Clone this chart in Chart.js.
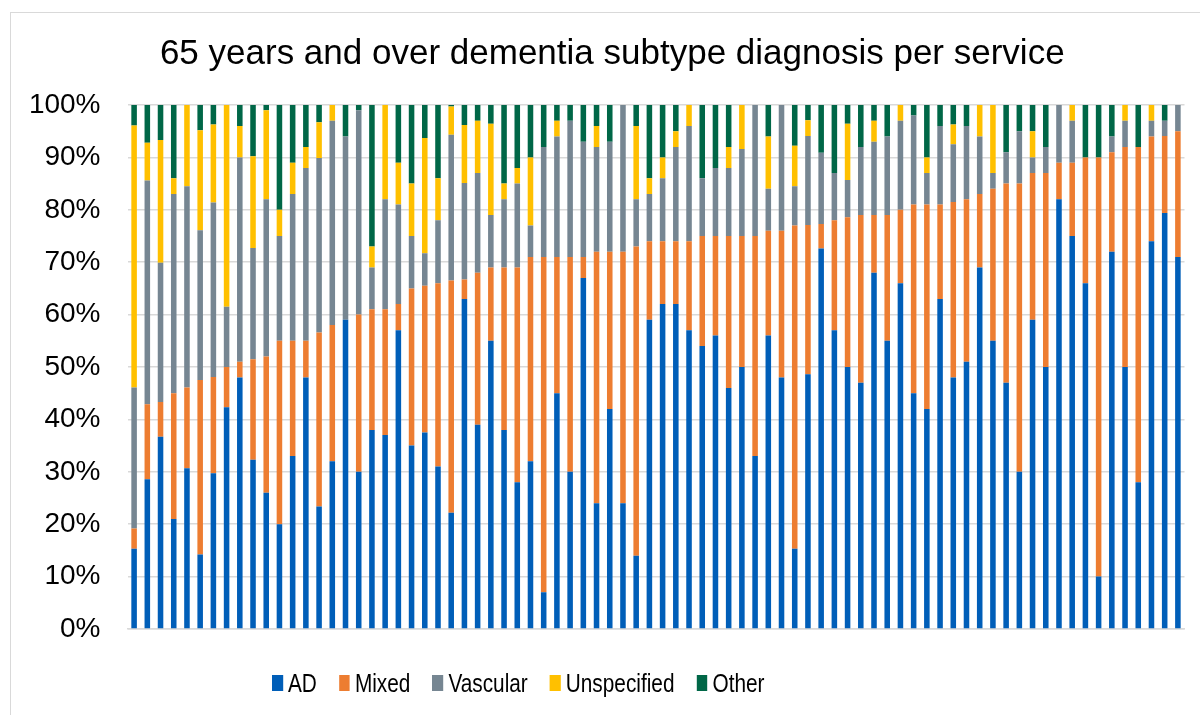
<!DOCTYPE html>
<html>
<head>
<meta charset="utf-8">
<title>65 years and over dementia subtype diagnosis per service</title>
<script src="https://cdn.jsdelivr.net/npm/chart.js@4.4.1/dist/chart.umd.min.js"></script>
<style>
  html, body { margin: 0; padding: 0; background: #fff; }
  #wrap { position: relative; width: 1200px; height: 715px; overflow: hidden; }
  #frame { position: absolute; left: 10px; top: 12px; width: 1400px; height: 900px; border: 1px solid #d9d9d9; }
  #chart { position: absolute; left: 0; top: 0; }
  #legend {
    position: absolute; left: 272px; top: 670px; display: flex; align-items: center;
    transform: scaleX(0.8); transform-origin: left center;
    font-family: "Liberation Sans", Arial, sans-serif; font-size: 26px; line-height: 26px; color: #000;
    white-space: nowrap;
  }
  .item { display: flex; align-items: center; margin-right: 27.5px; }
  .box { width: 13.75px; height: 16px; margin-right: 6.25px; }
</style>
</head>
<body>
<div id="wrap">
  <div id="frame"></div>
  <canvas id="chart" width="1200" height="715"></canvas>
  <div id="legend"></div>
</div>
<script>
// one bar per service (% of diagnoses)
const services = ['1','2','3','4','5','6','7','8','9','10','11','12','13','14','15','16','17','18','19','20',
  '21','22','23','24','25','26','27','28','29','30','31','32','33','34','35','36','37','38','39','40',
  '41','42','43','44','45','46','47','48','49','50','51','52','53','54','55','56','57','58','59','60',
  '61','62','63','64','65','66','67','68','69','70','71','72','73','74','75','76','77','78','79','80'];

const ad = [15.3, 28.6, 36.7, 21, 30.7, 14.2, 29.7, 42.3, 48, 32.3, 26, 20, 33, 48, 23.4, 32, 59, 30, 38, 37,
  57, 35, 37.5, 31, 22.2, 63, 39, 55, 38, 28, 32, 7, 45, 30, 67, 24, 42, 24, 14, 59,
  62, 62, 57, 54, 56, 46, 50, 33, 56, 48, 15.3, 48.6, 72.6, 57, 50, 47, 68, 55, 66, 45,
  42, 63, 48, 51, 69, 55, 47, 30, 59, 50, 82, 75, 66, 10, 72, 50, 28, 74, 79.4, 71];

const mixed = [3.9, 14.3, 6.6, 24, 15.4, 33.3, 18.4, 7.7, 3, 19.2, 26, 35, 22, 7, 33.2, 26, 0, 30, 23, 24,
  5, 30, 28, 35, 44.3, 3.7, 29, 14, 31, 41, 39, 64, 26, 41, 4, 48, 30, 48, 59, 15,
  12, 12, 17, 21, 19, 29, 25, 42, 20, 28, 61.7, 28.5, 4.7, 21, 28.6, 32, 11, 24, 14, 36,
  39, 18, 33.5, 31, 14, 29, 38, 55, 28, 37, 7, 14, 24, 80, 19, 42, 64, 20, 14.7, 24];

const vascular = [26.9, 42.7, 26.6, 38, 38.4, 28.6, 33.3, 11.5, 39, 21.2, 30, 20, 28, 33, 33.3, 39, 35, 39, 8, 21,
  19, 10, 6.2, 12, 27.8, 18.4, 19, 10, 13, 16, 6, 21, 23, 26, 22, 20, 21, 28, 9, 9,
  12, 18, 22, 11, 13, 13, 16.6, 25, 8, 24, 7.5, 17, 13.6, 9, 7.1, 13, 14, 15, 17, 17,
  6, 15, 11, 14, 11, 3, 6, 10, 3, 5, 11, 8, 0, 0, 3, 5, 0, 3, 2.9, 5];

const unspecified = [50, 7.2, 23.4, 3, 15.5, 19.1, 14.9, 38.5, 6, 17.5, 17, 5, 6, 4, 6.8, 3, 0, 0, 4, 18,
  8, 10, 22, 8, 5.4, 11.1, 10, 17.4, 3, 3, 13, 0, 3, 0, 0, 4, 0, 0, 14, 3,
  4, 3, 4, 0, 0, 4, 8.4, 0, 10, 0, 7.7, 3, 0, 0, 10.7, 0, 4, 0, 3, 0,
  3, 0, 3.8, 0, 6, 13, 0, 0, 5, 0, 0, 3, 0, 0, 0, 3, 0, 3, 0, 0];

const other = [3.9, 7.2, 6.7, 14, 0, 4.8, 3.7, 0, 4, 9.8, 1, 20, 11, 8, 3.3, 0, 6, 1, 27, 0,
  11, 15, 6.3, 14, 0.3, 3.8, 3, 3.6, 15, 12, 10, 8, 3, 3, 7, 4, 7, 0, 4, 14,
  10, 5, 0, 14, 12, 8, 0, 0, 6, 0, 7.8, 2.9, 9.1, 13, 3.6, 8, 3, 6, 0, 2,
  10, 4, 3.7, 4, 0, 0, 9, 5, 5, 8, 0, 0, 10, 10, 6, 0, 8, 0, 3, 0];

const seriesNames = ['AD', 'Mixed', 'Vascular', 'Unspecified', 'Other'];
const seriesColors = ['#005eb8', '#ed7d31', '#768692', '#ffc000', '#006747'];
const yTicks = [0, 10, 20, 30, 40, 50, 60, 70, 80, 90, 100];

const seriesData = [ad, mixed, vascular, unspecified, other];

const datasets = seriesNames.map((name, i) => ({
  label: name,
  data: seriesData[i],
  backgroundColor: seriesColors[i],
  borderWidth: 0,
  barPercentage: 0.42,
  categoryPercentage: 1
}));

// nudge the title a little right, the original is not centred on the canvas
const titleShift = {
  id: 'titleShift',
  afterLayout(c) {
    if (c.titleBlock) {
      c.titleBlock.left += 7;
      c.titleBlock.right += 7;
    }
  }
};

const chart = new Chart(document.getElementById('chart'), {
  type: 'bar',
  data: { labels: services, datasets: datasets },
  plugins: [titleShift],
  options: {
    responsive: false,
    animation: false,
    layout: { padding: { left: 26, right: 15.5, top: 0, bottom: 86 } },
    plugins: {
      legend: { display: false },
      tooltip: { enabled: false },
      title: {
        display: true,
        text: '65 years and over dementia subtype diagnosis per service',
        color: '#000',
        font: { family: '"Liberation Sans", Arial, sans-serif', size: 35, weight: 'normal', lineHeight: 1.2 },
        padding: { top: 33, bottom: 30 }
      }
    },
    scales: {
      x: {
        stacked: true,
        ticks: { display: false },
        grid: { display: false, drawTicks: false },
        border: { display: true, color: '#d9d9d9', width: 1.5 }
      },
      y: {
        stacked: true,
        min: 0,
        max: 100,
        afterFit: (scale) => { scale.width = 101.5; },
        afterBuildTicks: (scale) => { scale.ticks = yTicks.map(v => ({ value: v })); },
        ticks: {
          padding: 27,
          color: '#000',
          font: { family: '"Liberation Sans", Arial, sans-serif', size: 28 },
          callback: (v) => v + '%'
        },
        grid: { color: '#d9d9d9', lineWidth: 1.5, drawTicks: false },
        border: { display: false }
      }
    }
  }
});

// legend drawn as html so it sits where the original one does
const legend = document.getElementById('legend');
seriesNames.forEach((name, i) => {
  const item = document.createElement('div');
  item.className = 'item';
  const box = document.createElement('span');
  box.className = 'box';
  box.style.background = seriesColors[i];
  const txt = document.createElement('span');
  txt.textContent = name;
  item.appendChild(box);
  item.appendChild(txt);
  legend.appendChild(item);
});
</script>
</body>
</html>
